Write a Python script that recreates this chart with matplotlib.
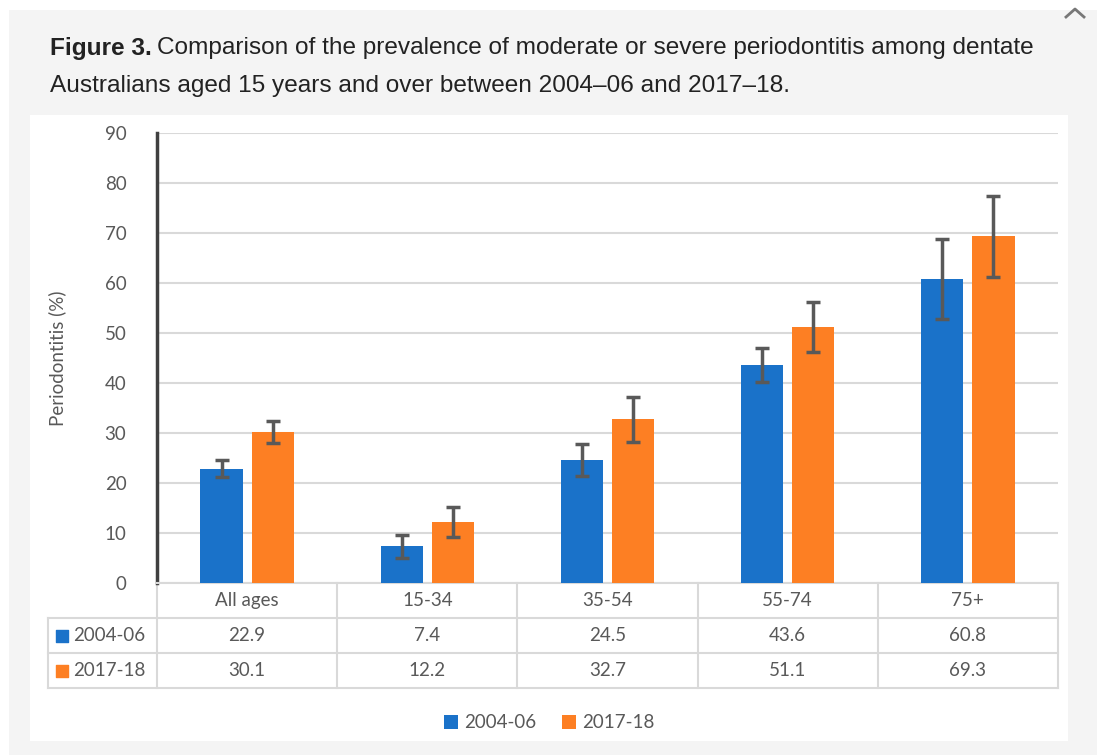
import matplotlib.pyplot as plt
from matplotlib.patches import Rectangle
from matplotlib.lines import Line2D

categories = ["All ages", "15-34", "35-54", "55-74", "75+"]
series_names = ["2004-06", "2017-18"]
vals_0406 = [22.9, 7.4, 24.5, 43.6, 60.8]
vals_1718 = [30.1, 12.2, 32.7, 51.1, 69.3]
err_0406 = [1.6, 2.3, 3.2, 3.4, 8.0]
err_1718 = [2.2, 3.0, 4.5, 5.0, 8.1]

BLUE = "#1a72c9"
ORANGE = "#fd7f23"
GREY_TXT = "#595959"
GRID = "#d9d9d9"
W, H = 1097, 755


def main():
    fig = plt.figure(figsize=(W / 100, H / 100), dpi=100)
    fig.patch.set_facecolor("white")

    # page background and white chart panel
    fig.add_artist(Rectangle((9 / W, 0), 1, 1 - 10 / H, transform=fig.transFigure,
                             facecolor="#f4f4f4", edgecolor="none", zorder=-3))
    fig.add_artist(Rectangle((30 / W, 1 - 741 / H), (1068 - 30) / W, (741 - 115) / H,
                             transform=fig.transFigure, facecolor="white",
                             edgecolor="none", zorder=-2))
    # collapse chevron at top right
    fig.add_artist(Line2D([1066 / W, 1075 / W, 1084 / W],
                          [1 - 17 / H, 1 - 9 / H, 1 - 17 / H],
                          transform=fig.transFigure, color="#777777", lw=2))

    # title: bold "Figure 3." then the rest of the caption
    tfs = 17.6
    t1 = fig.text(50 / W, 1 - 48 / H, "Figure 3.", fontsize=tfs, fontweight="bold",
                  family="Liberation Sans", color="#222222", va="center")
    ann = plt.Annotation(
        "Comparison of the prevalence of moderate or severe periodontitis among dentate",
        xy=(1, 0.5), xycoords=t1, xytext=(5, 0), textcoords="offset pixels",
        fontsize=tfs, family="Liberation Sans", color="#222222", va="center")
    fig.add_artist(ann)
    fig.text(50 / W, 1 - 86 / H,
             "Australians aged 15 years and over between 2004\u201306 and 2017\u201318.",
             fontsize=tfs, family="Liberation Sans", color="#222222", va="center")

    ax = fig.add_axes([157 / W, 1 - 583 / H, (1058 - 157) / W, (583 - 133) / H])
    ax.set_facecolor("none")
    x = list(range(len(categories)))
    bw = 0.235
    off = 0.142
    ekw = dict(ecolor="#595959", elinewidth=2.5, capsize=5, capthick=2.5)
    b1 = ax.bar([i - off for i in x], vals_0406, bw, color=BLUE, yerr=err_0406,
                error_kw=ekw, label=series_names[0], zorder=3)
    b2 = ax.bar([i + off for i in x], vals_1718, bw, color=ORANGE, yerr=err_1718,
                error_kw=ekw, label=series_names[1], zorder=3)

    ax.set_xlim(-0.5, len(categories) - 0.5)
    ax.set_ylim(0, 90)
    ax.set_yticks(range(0, 91, 10))
    ax.set_xticks([])
    ax.yaxis.grid(True, color=GRID, lw=1.5)
    ax.set_axisbelow(True)
    for s in ["top", "right"]:
        ax.spines[s].set_visible(False)
    ax.spines["bottom"].set_color(GRID)
    ax.spines["bottom"].set_linewidth(1.5)
    ax.spines["left"].set_color("#404040")
    ax.spines["left"].set_linewidth(2.5)
    ax.tick_params(axis="y", length=0, pad=22, labelsize=13.5, labelcolor=GREY_TXT)
    for lab in ax.get_yticklabels():
        lab.set_family("Lato")
    ax.set_ylabel("Periodontitis (%)", fontsize=13.5, color=GREY_TXT, family="Lato",
                  labelpad=28)

    # data table under the axis
    tr = ax.get_xaxis_transform()
    row_y = [0.0, -35 / 450, -70 / 450, -105 / 450]
    left_x = -0.5 - 109 / 180.2
    lkw = dict(color=GRID, lw=1.5, transform=tr, clip_on=False)
    ax.plot([left_x, 4.5], [row_y[1]] * 2, **lkw)
    ax.plot([left_x, 4.5], [row_y[2]] * 2, **lkw)
    ax.plot([left_x, 4.5], [row_y[3]] * 2, **lkw)
    ax.plot([left_x, left_x], [row_y[1], row_y[3]], **lkw)
    for b in range(len(categories) + 1):
        ax.plot([b - 0.5, b - 0.5], [0, row_y[3]], **lkw)

    tkw = dict(transform=tr, ha="center", va="center", fontsize=13.5,
               color=GREY_TXT, family="Lato", clip_on=False)
    for i, c in enumerate(categories):
        ax.text(i, (row_y[0] + row_y[1]) / 2, c, **tkw)
        ax.text(i, (row_y[1] + row_y[2]) / 2, f"{vals_0406[i]:.1f}", **tkw)
        ax.text(i, (row_y[2] + row_y[3]) / 2, f"{vals_1718[i]:.1f}", **tkw)

    for r, (name, col) in enumerate(zip(series_names, [BLUE, ORANGE])):
        yy = (row_y[r + 1] + row_y[r + 2]) / 2
        ax.scatter([left_x + 14 / 180.2], [yy], marker="s", s=75, color=col,
                   transform=tr, clip_on=False)
        ax.text(left_x + 25 / 180.2, yy, name, transform=tr, ha="left", va="center",
                fontsize=13.5, color=GREY_TXT, family="Lato", clip_on=False)

    leg = fig.legend(handles=[b1, b2], loc="center", bbox_to_anchor=(549 / W, 1 - 723 / H),
                     ncol=2, frameon=False, handlelength=0.75, handleheight=0.75,
                     handletextpad=0.3, columnspacing=1.4,
                     prop={"family": "Lato", "size": 13.5})
    for t in leg.get_texts():
        t.set_color(GREY_TXT)

    fig.savefig("out.png", dpi=100)
    plt.close(fig)


if __name__ == "__main__":
    main()
